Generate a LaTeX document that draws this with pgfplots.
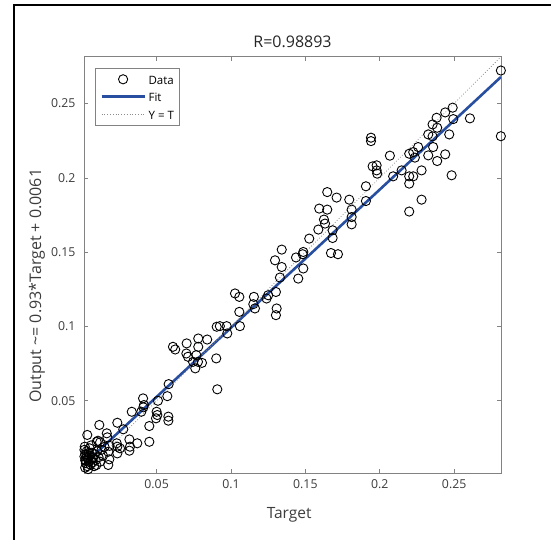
\documentclass[border=0pt]{standalone}
\usepackage{pgfplots}
\pgfplotsset{compat=1.18}
\usepackage{fontspec}
\setmainfont{Open Sans}
\definecolor{fitblue}{RGB}{40,78,160}
\definecolor{axgray}{RGB}{130,130,130}
\definecolor{txtgray}{RGB}{60,60,60}
\pgfplotsset{
  lineleg/.style={legend image code/.code={\draw[##1] (0bp,0bp) -- (43bp,0bp);}},
  markleg/.style={legend image code/.code={\path[draw=none] (0bp,0bp) (43bp,0bp);
      \draw[##1] plot coordinates {(21.5bp,0bp)};}},
}

\begin{document}
\begin{tikzpicture}[x=1bp,y=1bp]
\path[use as bounding box] (0,0) rectangle (551,540);
\draw[black,line width=2.5bp] (14,0) -- (14,535) -- (551,535);
\begin{axis}[
  at={(84bp,66.7bp)}, anchor=south west,
  scale only axis, width=417bp, height=416.6bp,
  xmin=0.0012, xmax=0.2815, ymin=0.0012, ymax=0.2815,
  xtick={0.05,0.1,0.15,0.2,0.25}, ytick={0.05,0.1,0.15,0.2,0.25},
  xticklabels={0.05,0.1,0.15,0.2,0.25}, yticklabels={0.05,0.1,0.15,0.2,0.25},
  scaled ticks=false,
  tick align=inside, major tick length=4bp,
  axis line style={axgray, line width=0.6bp},
  every tick/.style={axgray, line width=0.6bp},
  ticklabel style={font=\fontsize{12.3bp}{14bp}\selectfont, text=txtgray},
  xticklabel style={yshift=-3bp},
  yticklabel style={xshift=-5bp},
  title={R=0.98893},
  title style={at={(axis description cs:0.5,1.022)}, anchor=center,
    font=\fontsize{16bp}{18bp}\selectfont, text=black!85},
  xlabel={Target},
  xlabel style={at={(axis description cs:0.492,-0.100)}, anchor=center,
    font=\fontsize{15.5bp}{17bp}\selectfont, text=txtgray},
  ylabel={Output \textasciitilde= 0.93*Target + 0.0061},
  ylabel style={at={(axis description cs:-0.113,0.45)}, anchor=center,
    font=\fontsize{16bp}{18bp}\selectfont, text=txtgray},
  legend cell align=left,
  legend style={at={(0,1)}, anchor=north west, xshift=11bp, yshift=-11.3bp,
    draw=axgray, line width=0.6bp, font=\fontsize{11.5bp}{13bp}\selectfont,
    inner xsep=5bp, inner ysep=5bp, row sep=5.5bp,
    nodes={text height=11bp, text depth=1bp, inner ysep=0bp, inner xsep=0bp},
    /tikz/every odd column/.append style={column sep=2.7bp}},
]
\addplot[only marks, mark=o, mark size=4.6bp, mark options={black, line width=0.9bp}, markleg]
coordinates {
(0.2814,0.2722) (0.2814,0.2280) (0.2490,0.2472) (0.2440,0.2440) (0.2382,0.2404)
(0.2606,0.2400) (0.2494,0.2395) (0.2355,0.2359) (0.2386,0.2337) (0.2326,0.2292)
(0.2355,0.2279) (0.2467,0.2292) (0.2258,0.2207) (0.2359,0.2207) (0.2225,0.2173)
(0.2198,0.2162) (0.2236,0.2136) (0.2326,0.2151) (0.2440,0.2158) (0.2386,0.2113)
(0.2068,0.2149) (0.2281,0.2050) (0.2147,0.2050) (0.2090,0.2010) (0.2198,0.2010)
(0.2225,0.2010) (0.2198,0.1961) (0.2483,0.2017) (0.2281,0.1853) (0.2198,0.1773)
(0.1941,0.2270) (0.1941,0.2247) (0.1952,0.2077) (0.1979,0.2084) (0.1979,0.2050)
(0.1983,0.2028) (0.1907,0.1943) (0.1907,0.1844) (0.1647,0.1904) (0.1710,0.1867)
(0.1795,0.1853) (0.1593,0.1793) (0.1647,0.1786) (0.1811,0.1786) (0.1625,0.1719)
(0.1632,0.1692) (0.1811,0.1736) (0.1811,0.1687) (0.1587,0.1652) (0.1526,0.1591)
(0.1683,0.1647) (0.1683,0.1595)
(0.1486,0.1501) (0.1482,0.1486) (0.1437,0.1464) (0.1341,0.1517) (0.1296,0.1445)
(0.1341,0.1400) (0.1486,0.1390) (0.1452,0.1322) (0.1329,0.1329) (0.1302,0.1232)
(0.1250,0.1210) (0.1239,0.1188) (0.1027,0.1222) (0.1056,0.1199) (0.1154,0.1199)
(0.1150,0.1150) (0.1161,0.1121) (0.1307,0.1121) (0.1302,0.1076) (0.1056,0.1098)
(0.1060,0.1002) (0.0904,0.0998) (0.0925,0.1002) (0.0971,0.1002) (0.0975,0.0953)
(0.0780,0.0919) (0.0840,0.0912) (0.0702,0.0886) (0.0780,0.0863) (0.0610,0.0863)
(0.0625,0.0845) (0.0700,0.0818) (0.0711,0.0796) (0.0767,0.0807) (0.0778,0.0762)
(0.0805,0.0755) (0.0745,0.0762) (0.0760,0.0718) (0.0901,0.0785) (0.0908,0.0577)
(0.0581,0.0612) (0.0572,0.0531) (0.0509,0.0500) (0.0409,0.0516) (0.0415,0.0471)
(0.0411,0.0456) (0.0397,0.0426) (0.0500,0.0426) (0.0505,0.0404) (0.0496,0.0382)
(0.0579,0.0393) (0.0579,0.0366) (0.0451,0.0330) (0.0451,0.0224) (0.0333,0.0426)
(0.0236,0.0352) (0.0276,0.0308) (0.0115,0.0337) (0.0165,0.0281) (0.0034,0.0270)
(0.0169,0.0254) (0.0317,0.0240) (0.0370,0.0214) (0.0232,0.0214) (0.0097,0.0224)
(0.0321,0.0191) (0.0317,0.0164) (0.0254,0.0180) (0.0236,0.0146) (0.0175,0.0157)
(0.0182,0.0106) (0.0175,0.0068) (0.0017,0.0191) (0.0106,0.0231) (0.0095,0.0068)
(0.0184,0.0197) (0.0236,0.0191)
(0.1672,0.1494) (0.1719,0.1486)
(0.0015,0.0125) (0.0020,0.0100) (0.0025,0.0080) (0.0030,0.0140) (0.0035,0.0060)
(0.0040,0.0110) (0.0045,0.0090) (0.0050,0.0130) (0.0055,0.0070) (0.0060,0.0105)
(0.0030,0.0160) (0.0065,0.0150) (0.0070,0.0085) (0.0075,0.0120) (0.0080,0.0060)
(0.0085,0.0140) (0.0090,0.0100) (0.0100,0.0160) (0.0020,0.0050) (0.0040,0.0040)
(0.0015,0.0170) (0.0050,0.0180) (0.0110,0.0120) (0.0120,0.0090) (0.0130,0.0170)
(0.0060,0.0200) (0.0030,0.0120) (0.0045,0.0150) (0.0025,0.0095) (0.0070,0.0115)
(0.0140,0.0130) (0.0150,0.0190) (0.0120,0.0220) (0.0020,0.0140)
};
\addlegendentry{Data\hspace{6bp}}
\addplot[fitblue, line width=2.6bp, lineleg]
coordinates {(0.0012,0.00722) (0.2815,0.26790)};
\addlegendentry{Fit}
\addplot[black!45, dotted, line width=0.8bp, lineleg]
coordinates {(0.0012,0.0012) (0.2815,0.2815)};
\addlegendentry{Y = T}
\end{axis}
\end{tikzpicture}
\end{document}
